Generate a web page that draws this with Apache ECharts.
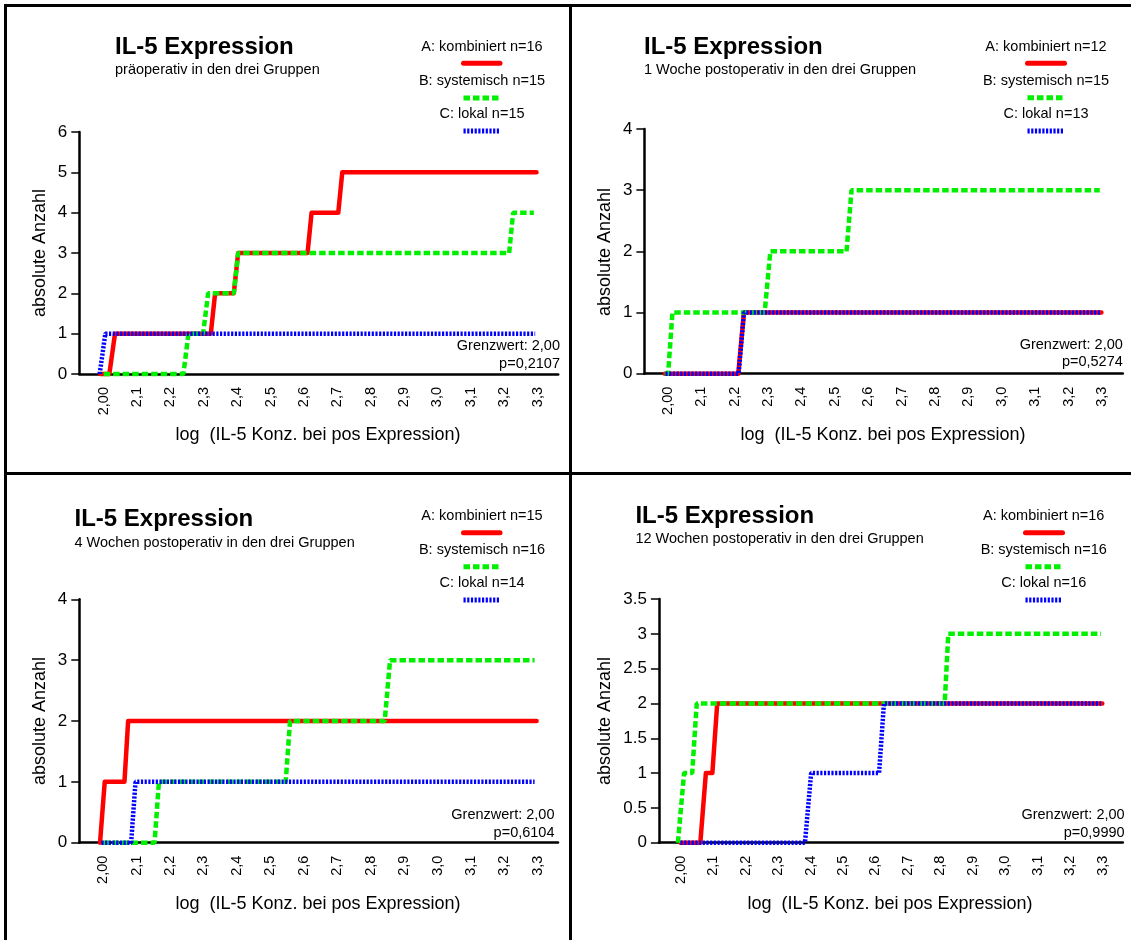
<!DOCTYPE html>
<html>
<head>
<meta charset="utf-8">
<title>IL-5 Expression</title>
<script src="https://cdn.jsdelivr.net/npm/echarts@6/dist/echarts.min.js"></script>
<style>
  html, body { margin: 0; padding: 0; background: #fff; }
  #chart { width: 1131px; height: 940px; }
</style>
</head>
<body>
<div id="chart"></div>
<script>
// ---- tick labels on the log-concentration axis ----
const xTickValues = [2.0, 2.1, 2.2, 2.3, 2.4, 2.5, 2.6, 2.7, 2.8, 2.9, 3.0, 3.1, 3.2, 3.3];
const xTickLabels = ['2,00', '2,1', '2,2', '2,3', '2,4', '2,5', '2,6', '2,7', '2,8', '2,9', '3,0', '3,1', '3,2', '3,3'];

// ---- panel texts ----
const panelSubtitles = [
  'präoperativ in den drei Gruppen',
  '1 Woche postoperativ in den drei Gruppen',
  '4 Wochen postoperativ in den drei Gruppen',
  '12 Wochen postoperativ in den drei Gruppen'
];
const groupNames = ['A: kombiniert', 'B: systemisch', 'C: lokal'];
const nKombiniert = [16, 12, 15, 16];
const nSystemisch = [15, 15, 16, 16];
const nLokal = [15, 13, 14, 16];
const grenzwert = '2,00';
const pValues = ['0,2107', '0,5274', '0,6104', '0,9990'];
const yMaxValues = [6, 4, 4, 3.5];
const yIntervals = [1, 1, 1, 0.5];

// ---- cumulative counts: [log concentration, absolute count] ----
// präoperativ
const kombPraeop = [[1.99, 0], [2.017, 0], [2.034, 1], [2.321, 1], [2.334, 2], [2.39, 2], [2.403, 3], [2.611, 3], [2.623, 4], [2.703, 4], [2.715, 5], [3.297, 5]];
const systPraeop = [[2.0, 0], [2.239, 0], [2.254, 1], [2.298, 1], [2.313, 2], [2.39, 2], [2.403, 3], [3.215, 3], [3.227, 4], [3.289, 4]];
const lokalPraeop = [[1.988, 0], [1.992, 0], [2.005, 1], [3.293, 1]];
// 1 Woche postoperativ
const komb1W = [[1.991, 0], [2.211, 0], [2.228, 1], [3.298, 1]];
const syst1W = [[1.991, 0], [2.001, 0], [2.014, 1], [2.29, 1], [2.307, 2], [2.535, 2], [2.55, 3], [3.293, 3]];
const lokal1W = [[1.993, 0], [2.212, 0], [2.228, 1], [3.296, 1]];
// 4 Wochen postoperativ
const komb4W = [[1.991, 0], [1.995, 0], [2.005, 1], [2.064, 1], [2.075, 2], [3.296, 2]];
const syst4W = [[2.0, 0], [2.154, 0], [2.167, 1], [2.546, 1], [2.559, 2], [2.842, 2], [2.858, 3], [3.29, 3]];
const lokal4W = [[1.995, 0], [2.084, 0], [2.097, 1], [3.29, 1]];
// 12 Wochen postoperativ
const komb12W = [[2.0, 0], [2.061, 0], [2.078, 1], [2.098, 1], [2.113, 2], [3.298, 2]];
const syst12W = [[1.992, 0], [1.998, 0], [2.011, 1], [2.036, 1], [2.05, 2], [2.813, 2], [2.824, 3], [3.294, 3]];
const lokal12W = [[2.0, 0], [2.383, 0], [2.402, 1], [2.611, 1], [2.626, 2], [3.294, 2]];

const kombSeries = [kombPraeop, komb1W, komb4W, komb12W];
const systSeries = [systPraeop, syst1W, syst4W, syst12W];
const lokalSeries = [lokalPraeop, lokal1W, lokal4W, lokal12W];

// ---- layout of the four panels (pixels) ----
const FONT = '"Liberation Sans", Arial, Helvetica, sans-serif';
const layout = [
  { grid: { left: 79.3, top: 132, width: 478.9, height: 242 }, xMin: 1.927, xMax: 3.362,
    title: [115, 47], sub: [115, 69.5], leg: 482, legY: [47, 63.3, 81, 98, 114, 131], sample: [463.5, 500],
    stat: [560, 346, 364], yName: [40, 253], xName: [318, 435] },
  { grid: { left: 644.4, top: 129, width: 478.4, height: 244.7 }, xMin: 1.93, xMax: 3.362,
    title: [644, 47], sub: [644, 69.5], leg: 1046, legY: [47.3, 63.3, 81, 97.7, 114, 131], sample: [1027.5, 1064.5],
    stat: [1122.8, 345, 362], yName: [605, 252], xName: [883, 435] },
  { grid: { left: 79.3, top: 599.3, width: 478.7, height: 243.4 }, xMin: 1.929, xMax: 3.36,
    title: [74.5, 519.5], sub: [74.5, 542.5], leg: 482, legY: [516, 532.7, 550.3, 566.7, 582.7, 600], sample: [463.5, 500],
    stat: [554.5, 815, 833], yName: [40, 721], xName: [318, 904] },
  { grid: { left: 658.9, top: 599, width: 463.9, height: 243.7 }, xMin: 1.9335, xMax: 3.361,
    title: [635.4, 516.5], sub: [635.4, 538.5], leg: 1043.7, legY: [516, 532.7, 550, 566.7, 582.7, 600], sample: [1025.5, 1062.5],
    stat: [1124.6, 815, 833], yName: [605, 721], xName: [890, 904] }
];

const RED = '#ff0000', GREEN = '#00f000', BLUE = '#0000ff';
const styleA = { color: RED, width: 4.5, type: 'solid', cap: 'round', join: 'round' };
const styleB = { color: GREEN, width: 4.5, type: [6.5, 3], cap: 'butt' };
const styleC = { color: BLUE, width: 4.5, type: [2.2, 1.5], cap: 'butt' };

const grids = [], xAxes = [], yAxes = [], series = [], graphics = [];

layout.forEach(function (L, i) {
  grids.push(Object.assign({ containLabel: false }, L.grid));
  xAxes.push({
    type: 'value', gridIndex: i, min: L.xMin, max: L.xMax,
    axisLine: { show: true, onZero: false, lineStyle: { color: '#000', width: 2.5 } },
    axisTick: { show: false },
    splitLine: { show: false },
    axisLabel: {
      customValues: xTickValues, rotate: 90, margin: 13,
      fontFamily: FONT, fontSize: 14.5, color: '#000',
      formatter: function (v) { return xTickLabels[Math.round((v - 2) * 10)]; }
    }
  });
  yAxes.push({
    type: 'value', gridIndex: i, min: 0, max: yMaxValues[i], interval: yIntervals[i],
    axisLine: { show: true, lineStyle: { color: '#000', width: 2.5 } },
    axisTick: { show: true, length: 8, lineStyle: { color: '#000', width: 1.5 } },
    splitLine: { show: false },
    axisLabel: { margin: 12, fontFamily: FONT, fontSize: 17, color: '#000' }
  });

  const groups = [
    { name: groupNames[0], data: kombSeries[i], style: styleA },
    { name: groupNames[1], data: systSeries[i], style: styleB },
    { name: groupNames[2], data: lokalSeries[i], style: styleC }
  ];
  groups.forEach(function (g, k) {
    series.push({
      type: 'line', name: g.name, xAxisIndex: i, yAxisIndex: i,
      data: g.data, showSymbol: false, symbol: 'none', clip: false,
      lineStyle: g.style, z: 3 + k, silent: true
    });
  });

  // title and subtitle
  graphics.push({ type: 'text', x: L.title[0], y: L.title[1], style: {
    text: 'IL-5 Expression', font: 'bold 24px ' + FONT, fill: '#000', verticalAlign: 'middle' } });
  graphics.push({ type: 'text', x: L.sub[0], y: L.sub[1], style: {
    text: panelSubtitles[i], font: '14.5px ' + FONT, fill: '#000', verticalAlign: 'middle' } });

  // group key: label centred above its line sample
  const keyTexts = [
    groupNames[0] + ' n=' + nKombiniert[i],
    groupNames[1] + ' n=' + nSystemisch[i],
    groupNames[2] + ' n=' + nLokal[i]
  ];
  const keyStyles = [styleA, styleB, styleC];
  keyTexts.forEach(function (t, k) {
    graphics.push({ type: 'text', x: L.leg, y: L.legY[2 * k], style: {
      text: t, font: '14.5px ' + FONT, fill: '#000', align: 'center', verticalAlign: 'middle' } });
    const st = keyStyles[k];
    graphics.push({ type: 'line', shape: { x1: L.sample[0], y1: L.legY[2 * k + 1], x2: L.sample[1], y2: L.legY[2 * k + 1] },
      style: { stroke: st.color, lineWidth: 5, lineDash: Array.isArray(st.type) ? st.type : null, lineCap: st.cap } });
  });

  // cut-off and p-value
  graphics.push({ type: 'text', x: L.stat[0], y: L.stat[1], style: {
    text: 'Grenzwert: ' + grenzwert, font: '14.5px ' + FONT, fill: '#000', align: 'right', verticalAlign: 'middle' } });
  graphics.push({ type: 'text', x: L.stat[0], y: L.stat[2], style: {
    text: 'p=' + pValues[i], font: '14.5px ' + FONT, fill: '#000', align: 'right', verticalAlign: 'middle' } });

  // axis names
  graphics.push({ type: 'text', x: L.yName[0], y: L.yName[1], rotation: Math.PI / 2, style: {
    text: 'absolute Anzahl', font: '18px ' + FONT, fill: '#000', align: 'center', verticalAlign: 'middle' } });
  graphics.push({ type: 'text', x: L.xName[0], y: L.xName[1], style: {
    text: 'log  (IL-5 Konz. bei pos Expression)', font: '18px ' + FONT, fill: '#000', align: 'center', verticalAlign: 'middle' } });
});

// frame around the panels
const frame = { stroke: '#000', lineWidth: 3 };
graphics.push({ type: 'line', shape: { x1: 4, y1: 5.5, x2: 1131, y2: 5.5 }, style: frame });
graphics.push({ type: 'line', shape: { x1: 5.5, y1: 4, x2: 5.5, y2: 940 }, style: frame });
graphics.push({ type: 'line', shape: { x1: 570.5, y1: 4, x2: 570.5, y2: 940 }, style: frame });
graphics.push({ type: 'line', shape: { x1: 4, y1: 473.5, x2: 1131, y2: 473.5 }, style: frame });

const chart = echarts.init(document.getElementById('chart'), null, { renderer: 'canvas' });
chart.setOption({
  backgroundColor: '#fff',
  animation: false,
  grid: grids,
  xAxis: xAxes,
  yAxis: yAxes,
  series: series,
  graphic: graphics
});
</script>
</body>
</html>
